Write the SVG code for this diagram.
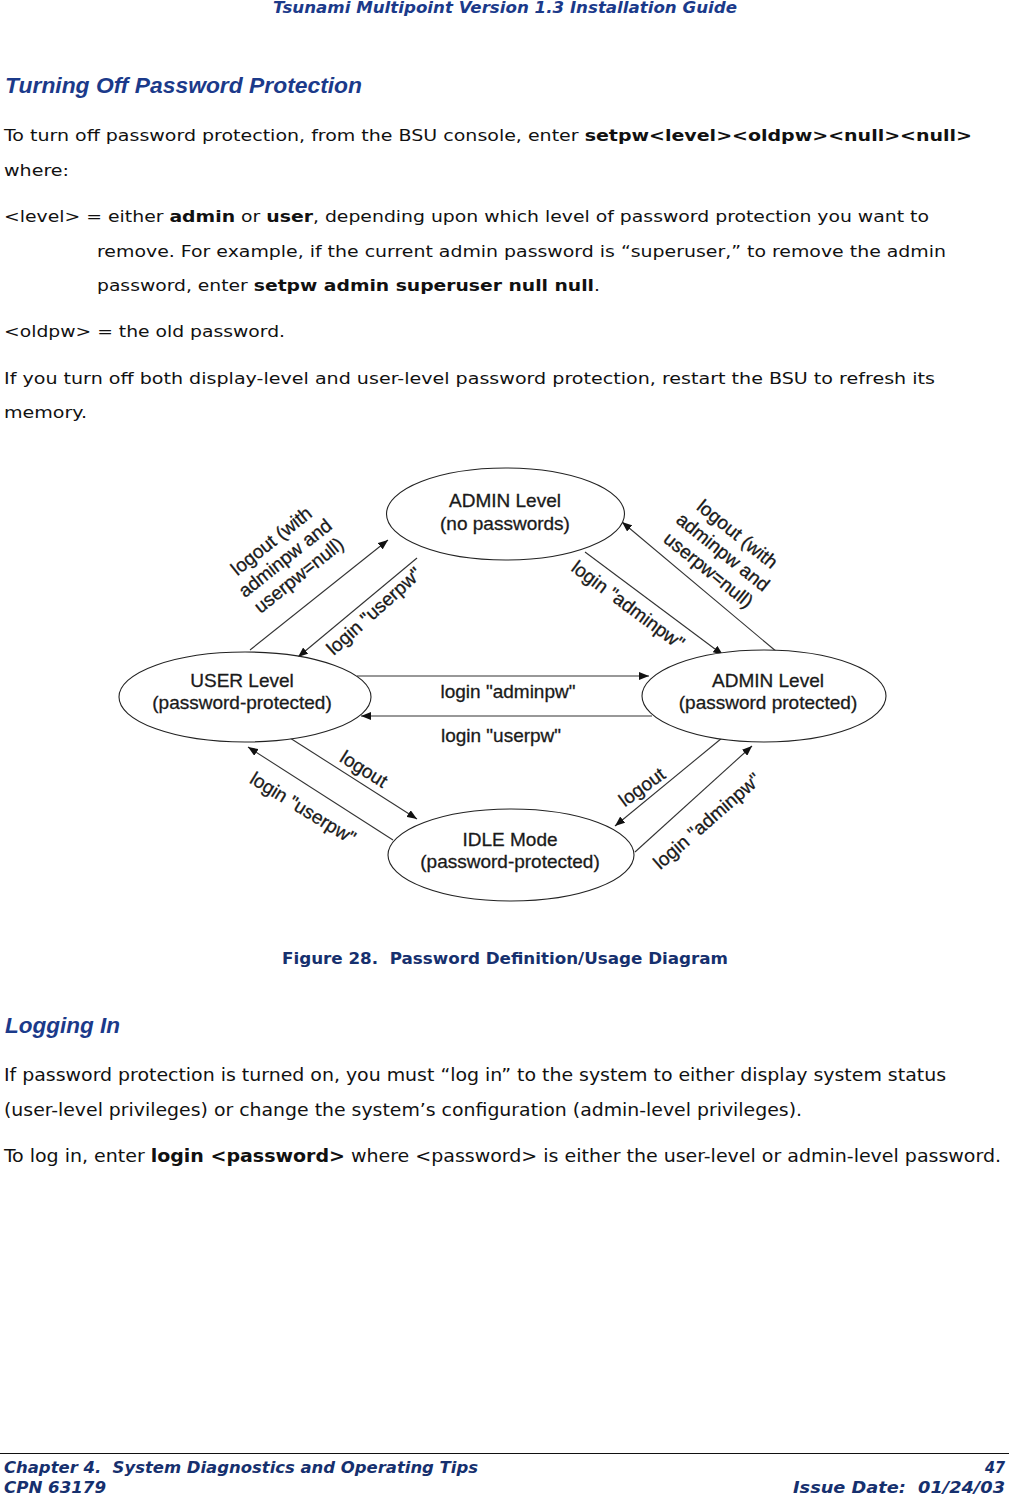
<svg xmlns="http://www.w3.org/2000/svg" width="1009" height="1496" viewBox="0 0 1009 1496">
<style>
.hdr{font-family:"DejaVu Sans","Liberation Sans",sans-serif;font-weight:bold;font-style:italic;fill:#1b3a8a}
.h2{font-family:"Liberation Sans",Arial,sans-serif;font-weight:bold;font-style:italic;font-size:22.5px;fill:#1b3a8a}
.body{font-family:"DejaVu Sans","Liberation Sans",sans-serif;font-size:16.5px;fill:#111}
.cond{font-family:"DejaVu Sans Condensed","DejaVu Sans","Liberation Sans",sans-serif;font-size:17px;fill:#111}
.b{font-weight:bold}
.cap{font-family:"DejaVu Sans Condensed","DejaVu Sans",sans-serif;font-weight:bold;font-size:16.5px;fill:#16306e}
.foot{font-family:"DejaVu Sans Condensed","DejaVu Sans",sans-serif;font-weight:bold;font-style:italic;font-size:16px;fill:#16306e}
.node ellipse{fill:#fff;stroke:#222;stroke-width:1.1}
.nt{font-family:"Liberation Sans",Arial,sans-serif;font-size:19px;fill:#1a1a1a;stroke:#1a1a1a;stroke-width:0.3;text-anchor:middle}
.lbl{font-family:"Liberation Sans",Arial,sans-serif;font-size:19px;fill:#1a1a1a;stroke:#1a1a1a;stroke-width:0.3;text-anchor:middle;dominant-baseline:central}
.conn line{stroke:#333;stroke-width:1.1;marker-end:url(#ah)}
</style>
<defs>
<marker id="ah" markerUnits="userSpaceOnUse" markerWidth="11" markerHeight="8" refX="10" refY="4" orient="auto">
<path d="M0,0 L10,4 L0,8 z" fill="#111"/>
</marker>
</defs>
<rect width="1009" height="1496" fill="#fff"/>

<text class="hdr" x="273" y="13" font-size="16px" textLength="464" lengthAdjust="spacingAndGlyphs">Tsunami Multipoint Version 1.3 Installation Guide</text>

<text class="h2" x="5" y="93" textLength="357" lengthAdjust="spacingAndGlyphs">Turning Off Password Protection</text>

<text class="body" x="4" y="141" textLength="968" lengthAdjust="spacingAndGlyphs">To turn off password protection, from the BSU console, enter <tspan class="b">setpw&lt;level&gt;&lt;oldpw&gt;&lt;null&gt;&lt;null&gt;</tspan></text>
<text class="body" x="4" y="176" textLength="65" lengthAdjust="spacingAndGlyphs">where:</text>
<text class="body" x="4" y="222" textLength="925" lengthAdjust="spacingAndGlyphs">&lt;level&gt; = either <tspan class="b">admin</tspan> or <tspan class="b">user</tspan>, depending upon which level of password protection you want to</text>
<text class="body" x="97" y="257" textLength="849" lengthAdjust="spacingAndGlyphs">remove. For example, if the current admin password is “superuser,” to remove the admin</text>
<text class="body" x="97" y="291" textLength="503" lengthAdjust="spacingAndGlyphs">password, enter <tspan class="b">setpw admin superuser null null</tspan>.</text>
<text class="body" x="4" y="337" textLength="281" lengthAdjust="spacingAndGlyphs">&lt;oldpw&gt; = the old password.</text>
<text class="body" x="4" y="384" textLength="931" lengthAdjust="spacingAndGlyphs">If you turn off both display-level and user-level password protection, restart the BSU to refresh its</text>
<text class="body" x="4" y="418" textLength="83" lengthAdjust="spacingAndGlyphs">memory.</text>

<g id="connectors" class="conn">
<line id="c-user-admin-logout" x1="250" y1="650" x2="388" y2="540"/>
<line id="c-admin-user-login" x1="417" y1="558" x2="298" y2="657"/>
<line id="c-admin-adminpw-login" x1="585" y1="552" x2="723" y2="655"/>
<line id="c-adminpw-admin-logout" x1="777" y1="652" x2="622" y2="522"/>
<line id="c-user-adminpw-login" x1="357" y1="676" x2="649" y2="676"/>
<line id="c-adminpw-user-login" x1="652" y1="716" x2="361" y2="716"/>
<line id="c-user-idle-logout" x1="290" y1="738" x2="417" y2="819"/>
<line id="c-idle-user-login" x1="393" y1="840" x2="248" y2="747"/>
<line id="c-adminpw-idle-logout" x1="722" y1="738" x2="615" y2="826"/>
<line id="c-idle-adminpw-login" x1="635" y1="852" x2="752" y2="746"/>
</g>

<g id="node-admin-nopw" class="node">
<ellipse cx="505.5" cy="514" rx="119" ry="46"/>
<text class="nt" x="505" y="507">ADMIN Level</text>
<text class="nt" x="505" y="530">(no passwords)</text>
</g>
<g id="node-user" class="node">
<ellipse cx="245" cy="697" rx="126" ry="45"/>
<text class="nt" x="242" y="687">USER Level</text>
<text class="nt" x="242" y="709">(password-protected)</text>
</g>
<g id="node-admin-pw" class="node">
<ellipse cx="764" cy="696" rx="122" ry="46"/>
<text class="nt" x="768" y="687">ADMIN Level</text>
<text class="nt" x="768" y="709">(password protected)</text>
</g>
<g id="node-idle" class="node">
<ellipse cx="511" cy="855" rx="123" ry="46"/>
<text class="nt" x="510" y="846">IDLE Mode</text>
<text class="nt" x="510" y="868">(password-protected)</text>
</g>

<g id="labels">
<g transform="translate(285,558) rotate(-38.6)">
<text class="lbl" x="0" y="-22">logout (with</text>
<text class="lbl" x="0" y="0">adminpw and</text>
<text class="lbl" x="0" y="22">userpw=null)</text>
</g>
<text class="lbl" transform="translate(374,611) rotate(-42)">login &quot;userpw&quot;</text>
<text class="lbl" transform="translate(628,605) rotate(36.6)">login &quot;adminpw&quot;</text>
<g transform="translate(723,552) rotate(38.8)">
<text class="lbl" x="0" y="-23">logout (with</text>
<text class="lbl" x="0" y="0">adminpw and</text>
<text class="lbl" x="0" y="23">userpw=null)</text>
</g>
<text class="lbl" x="508" y="691">login &quot;adminpw&quot;</text>
<text class="lbl" x="501" y="735">login &quot;userpw&quot;</text>
<text class="lbl" transform="translate(364,769) rotate(32)">logout</text>
<text class="lbl" transform="translate(303,808) rotate(31.5)">login &quot;userpw&quot;</text>
<text class="lbl" transform="translate(642,787) rotate(-36)">logout</text>
<text class="lbl" transform="translate(707,821) rotate(-41)">login &quot;adminpw&quot;</text>
</g>

<text class="cap" x="282" y="964" xml:space="preserve" textLength="446" lengthAdjust="spacingAndGlyphs">Figure 28.  Password Definition/Usage Diagram</text>

<text class="h2" x="5" y="1033" textLength="115" lengthAdjust="spacingAndGlyphs">Logging In</text>

<text class="cond" x="4" y="1081" textLength="942" lengthAdjust="spacingAndGlyphs">If password protection is turned on, you must “log in” to the system to either display system status</text>
<text class="cond" x="4" y="1116" textLength="798" lengthAdjust="spacingAndGlyphs">(user-level privileges) or change the system’s configuration (admin-level privileges).</text>
<text class="cond" x="4" y="1162" textLength="997" lengthAdjust="spacingAndGlyphs">To log in, enter <tspan class="b">login &lt;password&gt;</tspan> where &lt;password&gt; is either the user-level or admin-level password.</text>

<line x1="0" y1="1453.5" x2="1009" y2="1453.5" stroke="#111" stroke-width="1.2"/>
<text class="foot" x="4" y="1473" xml:space="preserve" textLength="474" lengthAdjust="spacingAndGlyphs">Chapter 4.  System Diagnostics and Operating Tips</text>
<text class="foot" x="1005" y="1473" text-anchor="end">47</text>
<text class="foot" x="4" y="1493" textLength="102" lengthAdjust="spacingAndGlyphs">CPN 63179</text>
<text class="foot" x="1005" y="1493" text-anchor="end" xml:space="preserve" textLength="212" lengthAdjust="spacingAndGlyphs">Issue Date:  01/24/03</text>
</svg>
